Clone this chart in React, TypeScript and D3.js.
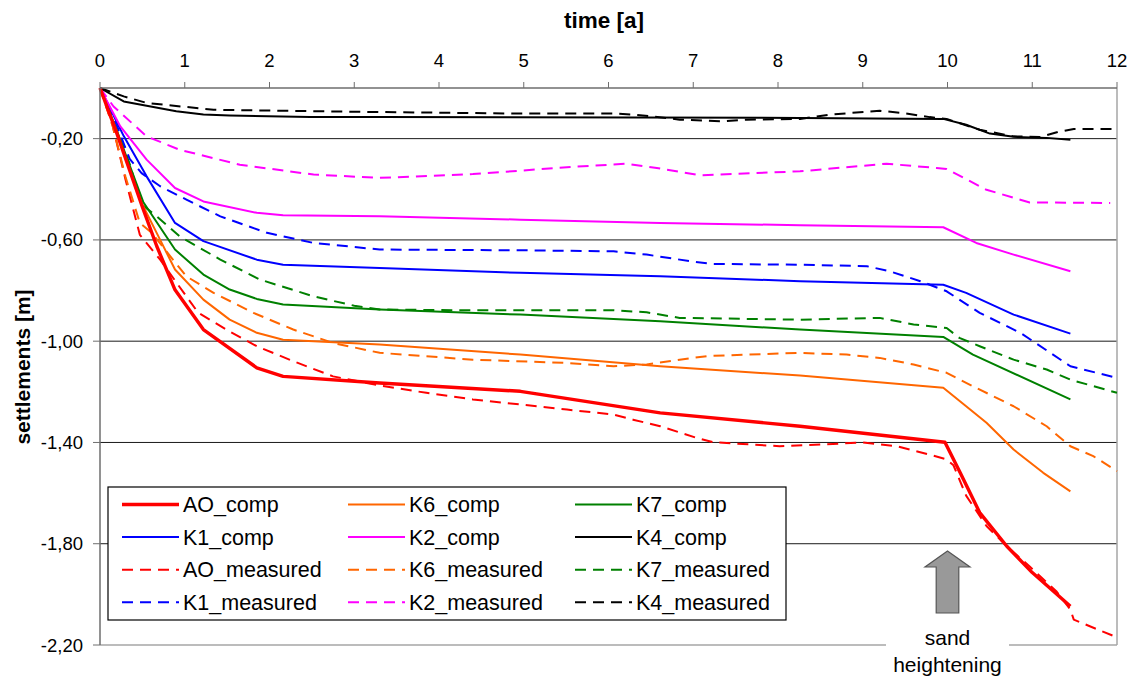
import React from "react";
import * as d3 from "d3";

// Settlement curves over time: computed vs. measured for six gauges
type Pt = [number, number];

const timeTicks = [0, 1, 2, 3, 4, 5, 6, 7, 8, 9, 10, 11, 12];
const settlementTicks = [-0.2, -0.6, -1.0, -1.4, -1.8, -2.2];
const gridLevels = [-0.2, -0.6, -1.0, -1.4, -1.8];

const aoComp: Pt[] = [[0, 0], [0.2, -0.18], [0.5, -0.47], [0.67, -0.625], [0.885, -0.797], [1.22, -0.954], [1.85, -1.105], [2.16, -1.139], [3.3, -1.165], [4.96, -1.198], [6.61, -1.283], [8.26, -1.336], [9.97, -1.399], [10.15, -1.52], [10.38, -1.677], [10.7, -1.81], [11.0, -1.914], [11.45, -2.047]];
const k6Comp: Pt[] = [[0, 0], [0.2, -0.17], [0.5, -0.46], [0.71, -0.6], [0.885, -0.717], [1.22, -0.836], [1.53, -0.915], [1.85, -0.967], [2.16, -0.994], [3.3, -1.013], [4.96, -1.053], [6.61, -1.099], [8.26, -1.136], [9.95, -1.184], [10.22, -1.257], [10.46, -1.322], [10.78, -1.428], [11.13, -1.52], [11.45, -1.593]];
const k7Comp: Pt[] = [[0, 0], [0.2, -0.17], [0.51, -0.45], [0.885, -0.638], [1.22, -0.737], [1.53, -0.796], [1.85, -0.833], [2.16, -0.855], [3.3, -0.875], [4.96, -0.895], [6.61, -0.921], [8.26, -0.954], [9.95, -0.983], [10.3, -1.053], [11.45, -1.23]];
const k1Comp: Pt[] = [[0, 0], [0.28, -0.19], [0.55, -0.349], [0.885, -0.533], [1.22, -0.605], [1.85, -0.678], [2.16, -0.698], [3.3, -0.711], [4.96, -0.73], [6.61, -0.744], [8.26, -0.763], [9.95, -0.777], [10.22, -0.809], [10.78, -0.895], [11.45, -0.97]];
const k2Comp: Pt[] = [[0, 0], [0.24, -0.152], [0.55, -0.283], [0.885, -0.395], [1.22, -0.448], [1.85, -0.493], [2.16, -0.503], [3.3, -0.507], [4.96, -0.52], [6.61, -0.533], [8.26, -0.542], [9.95, -0.55], [10.34, -0.612], [10.78, -0.658], [11.45, -0.724]];
const k4Comp: Pt[] = [[0, 0], [0.28, -0.053], [0.9, -0.092], [1.22, -0.105], [1.53, -0.109], [2.48, -0.115], [3.3, -0.115], [8.26, -0.118], [9.95, -0.122], [10.22, -0.145], [10.5, -0.18], [10.78, -0.193], [11.17, -0.197], [11.45, -0.204]];

const aoMeas: Pt[] = [[0, 0], [0.15, -0.15], [0.3, -0.36], [0.47, -0.58], [0.71, -0.678], [0.905, -0.77], [1.16, -0.888], [1.49, -0.954], [1.85, -1.02], [2.28, -1.079], [2.75, -1.139], [3.3, -1.175], [3.85, -1.204], [4.4, -1.23], [4.96, -1.25], [5.51, -1.27], [6.06, -1.29], [6.29, -1.31], [6.61, -1.336], [7.04, -1.382], [7.24, -1.399], [8.02, -1.415], [8.53, -1.408], [9.0, -1.4], [9.4, -1.415], [9.79, -1.448], [9.99, -1.467], [10.07, -1.49], [10.22, -1.61], [10.46, -1.73], [10.7, -1.81], [10.97, -1.89], [11.29, -1.99], [11.45, -2.06], [11.49, -2.1], [12.0, -2.17]];
const k6Meas: Pt[] = [[0, 0], [0.15, -0.15], [0.3, -0.35], [0.47, -0.533], [0.61, -0.572], [0.83, -0.665], [1.02, -0.744], [1.34, -0.809], [1.81, -0.888], [2.28, -0.954], [2.75, -1.007], [3.3, -1.046], [4.4, -1.073], [5.51, -1.086], [6.06, -1.099], [6.45, -1.092], [6.84, -1.073], [7.16, -1.059], [7.63, -1.053], [8.26, -1.046], [8.81, -1.053], [9.2, -1.066], [9.6, -1.092], [9.99, -1.125], [10.3, -1.178], [10.78, -1.257], [11.17, -1.336], [11.45, -1.415], [11.72, -1.454], [12.0, -1.513]];
const k7Meas: Pt[] = [[0, 0], [0.15, -0.12], [0.35, -0.3], [0.49, -0.46], [0.67, -0.507], [0.94, -0.586], [1.42, -0.678], [1.89, -0.757], [2.52, -0.823], [3.0, -0.86], [3.3, -0.875], [4.4, -0.878], [6.06, -0.878], [6.45, -0.886], [6.84, -0.908], [8.26, -0.915], [9.2, -0.908], [9.6, -0.934], [9.99, -0.948], [10.14, -0.987], [10.38, -1.02], [10.78, -1.073], [11.17, -1.112], [11.45, -1.152], [12.0, -1.204]];
const k1Meas: Pt[] = [[0, 0], [0.2, -0.15], [0.35, -0.28], [0.49, -0.336], [0.71, -0.388], [1.02, -0.441], [1.42, -0.507], [1.97, -0.572], [2.52, -0.612], [3.3, -0.638], [4.96, -0.641], [6.06, -0.645], [6.45, -0.658], [6.96, -0.684], [7.24, -0.695], [8.26, -0.698], [9.05, -0.704], [9.32, -0.724], [9.68, -0.763], [9.99, -0.803], [10.38, -0.888], [10.86, -0.967], [11.45, -1.099], [12.0, -1.145]];
const k2Meas: Pt[] = [[0, 0], [0.16, -0.073], [0.55, -0.191], [0.94, -0.244], [1.65, -0.303], [2.52, -0.342], [3.3, -0.355], [4.4, -0.34], [5.51, -0.313], [6.21, -0.299], [6.57, -0.316], [7.08, -0.345], [8.26, -0.329], [9.28, -0.299], [9.87, -0.316], [9.99, -0.32], [10.46, -0.402], [10.97, -0.452], [11.92, -0.454]];
const k4Meas: Pt[] = [[0, 0], [0.28, -0.033], [0.55, -0.059], [1.34, -0.086], [3.3, -0.095], [4.96, -0.101], [6.06, -0.101], [6.29, -0.105], [6.52, -0.112], [6.84, -0.125], [7.35, -0.132], [7.63, -0.125], [8.26, -0.122], [8.61, -0.105], [9.2, -0.09], [9.48, -0.099], [9.79, -0.115], [9.99, -0.122], [10.38, -0.165], [10.78, -0.191], [11.09, -0.194], [11.29, -0.175], [11.49, -0.162], [11.96, -0.162]];

// Legend order (row by row, three columns)
const seriesNames = ["AO_comp", "K6_comp", "K7_comp", "K1_comp", "K2_comp", "K4_comp", "AO_measured", "K6_measured", "K7_measured", "K1_measured", "K2_measured", "K4_measured"];
const seriesData: Pt[][] = [aoComp, k6Comp, k7Comp, k1Comp, k2Comp, k4Comp, aoMeas, k6Meas, k7Meas, k1Meas, k2Meas, k4Meas];
const seriesColors = ["#ff0000", "#ff6600", "#008000", "#0000ff", "#ff00ff", "#000000", "#ff0000", "#ff6600", "#008000", "#0000ff", "#ff00ff", "#000000"];

const W = 1136;
const H = 677;
const left = 100, right = 1117, top = 88, bottom = 645;
const FONT = "'Liberation Sans', Arial, sans-serif";
const DASH = "11 7";

export default function App() {
  const x = d3.scaleLinear().domain([0, 12]).range([left, right]);
  const y = d3.scaleLinear().domain([0, -2.2]).range([top, bottom]);
  const line = d3.line<Pt>().x((d) => x(d[0])).y((d) => y(d[1]));
  const fmt = (v: number) => d3.format(".2f")(v).replace(".", ",").replace("−", "-");

  const isDashed = (name: string) => name.endsWith("_measured");
  const strokeW = (name: string) => (name === "AO_comp" ? 3.4 : 2);

  // drawing order: measured first, computed on top, AO_comp last
  const order = seriesNames
    .map((n, i) => i)
    .sort((a, b) => {
      const rank = (i: number) => (seriesNames[i] === "AO_comp" ? 2 : isDashed(seriesNames[i]) ? 0 : 1);
      return rank(a) - rank(b);
    });

  // legend layout
  const legX = 108, legY = 487, legW = 678, legH = 133;
  const colX = [122, 348, 575];
  const rowY0 = 504.5, rowStep = 32.6;

  // arrow marking the sand heightening at t = 10
  const ax = x(10);
  const arrowPts: [number, number][] = [
    [ax, 551], [ax + 22.5, 567], [ax + 11.3, 567], [ax + 11.3, 613],
    [ax - 11.3, 613], [ax - 11.3, 567], [ax - 22.5, 567],
  ];

  return (
    <svg width={W} height={H} style={{ position: "absolute", left: 0, top: 0, background: "#fff" }} fontFamily={FONT}>
      <rect x={0} y={0} width={W} height={H} fill="#fff" />

      {/* grid */}
      {gridLevels.map((v) => (
        <line key={"g" + v} x1={left} x2={right} y1={y(v)} y2={y(v)} stroke="#1a1a1a" strokeWidth={1} />
      ))}

      {/* frame */}
      <line x1={right} x2={right} y1={top} y2={bottom} stroke="#a6a6a6" strokeWidth={1.5} />
      <line x1={left} x2={right} y1={bottom} y2={bottom} stroke="#a6a6a6" strokeWidth={1.5} />

      {/* series */}
      {order.map((i) => (
        <path
          key={seriesNames[i]}
          d={line(seriesData[i]) || ""}
          fill="none"
          stroke={seriesColors[i]}
          strokeWidth={strokeW(seriesNames[i])}
          strokeDasharray={isDashed(seriesNames[i]) ? DASH : undefined}
          strokeLinejoin="round"
        />
      ))}

      {/* top time axis */}
      <line x1={left} x2={right} y1={top} y2={top} stroke="#6e6e6e" strokeWidth={1.5} />
      {timeTicks.map((t) => (
        <g key={"xt" + t}>
          <line x1={x(t)} x2={x(t)} y1={top} y2={top - 6} stroke="#6e6e6e" strokeWidth={1} />
          <text x={x(t)} y={67} textAnchor="middle" fontSize={18.5} fill="#000">{t}</text>
        </g>
      ))}
      <text x={604} y={28} textAnchor="middle" fontSize={22.5} fontWeight="bold">time [a]</text>

      {/* left settlement axis */}
      <line x1={left} x2={left} y1={top} y2={bottom} stroke="#6e6e6e" strokeWidth={1.5} />
      {settlementTicks.map((v) => (
        <g key={"yt" + v}>
          <line x1={left - 7} x2={left} y1={y(v)} y2={y(v)} stroke="#6e6e6e" strokeWidth={1} />
          <text x={83} y={y(v) + 6.5} textAnchor="end" fontSize={18.5} fill="#000">{fmt(v)}</text>
        </g>
      ))}
      <text transform={`translate(29.5,367) rotate(-90)`} textAnchor="middle" fontSize={21} fontWeight="bold">settlements [m]</text>

      {/* legend */}
      <rect x={legX} y={legY} width={legW} height={legH} fill="#fff" stroke="#000" strokeWidth={1.2} />
      {seriesNames.map((name, i) => {
        const cx = colX[i % 3];
        const cy = rowY0 + Math.floor(i / 3) * rowStep;
        return (
          <g key={"leg" + name}>
            <line
              x1={cx}
              x2={cx + 57}
              y1={cy}
              y2={cy}
              stroke={seriesColors[i]}
              strokeWidth={strokeW(name)}
              strokeDasharray={isDashed(name) ? DASH : undefined}
            />
            <text x={cx + 61} y={cy + 7.5} fontSize={21.5} fill="#000">{name}</text>
          </g>
        );
      })}

      {/* sand heightening annotation */}
      <polygon points={arrowPts.map((p) => p.join(",")).join(" ")} fill="#999999" stroke="#555555" strokeWidth={1.2} />
      <rect x={886} y={626} width={123} height={51} fill="#fff" />
      <text x={ax} y={645} textAnchor="middle" fontSize={21}>sand</text>
      <text x={ax} y={672} textAnchor="middle" fontSize={21}>heightening</text>
    </svg>
  );
}
